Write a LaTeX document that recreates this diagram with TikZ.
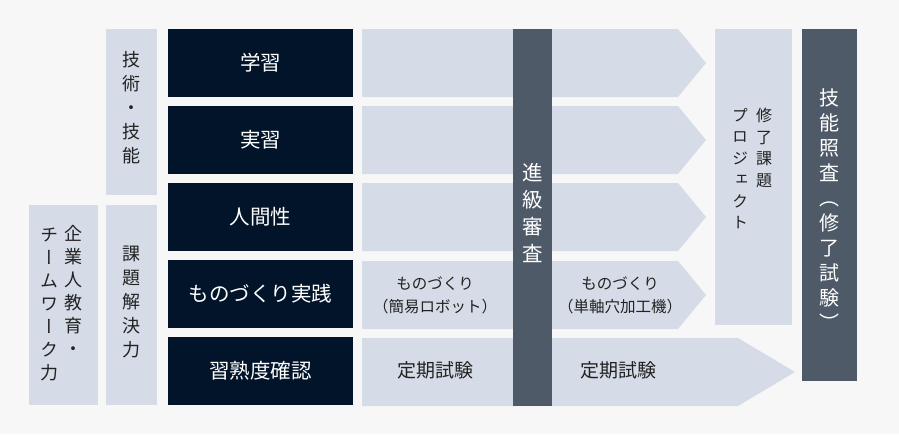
\documentclass[tikz,border=0pt]{standalone}
\usepackage{fontspec}
\newfontfamily\jpfont{Noto Sans CJK JP}
\newfontfamily\jpvert[RawFeature=+vert]{Noto Sans CJK JP}
\definecolor{bggray}{HTML}{F7F7F7}
\definecolor{paleblue}{HTML}{D5DCE7}
\definecolor{navy}{HTML}{02142A}
\definecolor{slate}{HTML}{4F5A68}
\definecolor{inkgray}{HTML}{222222}

\begin{document}
\begin{tikzpicture}[x=1pt,y=-1pt,
    dark node/.style={rectangle,fill=navy,text=white,minimum width=185pt,minimum height=68pt,
                      inner sep=0pt,font=\jpfont\fontsize{20.5}{24}\selectfont},
    pale box/.style={rectangle,fill=paleblue,inner sep=0pt},
    bar box/.style={rectangle,fill=slate,inner sep=0pt},
    col text/.style={align=center,inner sep=0pt,text=inkgray,font=\jpvert\fontsize{18}{24}\selectfont},
    flow text/.style={align=center,inner sep=0pt,text=inkgray},
    flow arrow/.style={fill=paleblue}]

  \useasboundingbox[fill=bggray] (0,0) rectangle (899,434);

  % left side columns
  \node[pale box,minimum width=51pt,minimum height=166pt] (skillbox) at (131.5,112) {};
  \node[col text] (skill) at (131.5,107.5) {技\\術\\・\\技\\能};
  \node[pale box,minimum width=69pt,minimum height=200pt] (teambox) at (63.5,305) {};
  \node[col text,font=\jpvert\fontsize{18}{23}\selectfont,anchor=north] (corp) at (73,225) {企\\業\\人\\教\\育\\・};
  \node[col text,font=\jpvert\fontsize{18}{23}\selectfont,anchor=north] (team) at (49,228) {チ\\ー\\ム\\ワ\\ー\\ク\\力};
  \node[pale box,minimum width=51pt,minimum height=200pt] (solvebox) at (131.5,305) {};
  \node[col text] (solve) at (131.5,302) {課\\題\\解\\決\\力};

  % dark row heads
  \node[dark node] (study) at (260.5,63) {学習};
  \node[dark node] (practice) at (260.5,140) {実習};
  \node[dark node] (human) at (260.5,217) {人間性};
  \node[dark node] (making) at (260.5,294) {ものづくり実践};
  \node[dark node] (check) at (260.5,371) {習熟度確認};

  % arrows
  \fill[flow arrow] (362,29) -- (678,29) -- (706,63) -- (678,97) -- (362,97) -- cycle;
  \fill[flow arrow] (362,106) -- (678,106) -- (706,140) -- (678,174) -- (362,174) -- cycle;
  \fill[flow arrow] (362,183) -- (678,183) -- (706,217) -- (678,251) -- (362,251) -- cycle;
  \fill[flow arrow] (362,261) -- (678,261) -- (706,295) -- (678,329) -- (362,329) -- cycle;
  \fill[flow arrow] (362,338) -- (738,338) -- (795,372) -- (738,406) -- (362,406) -- cycle;

  \node[flow text,font=\jpfont\fontsize{15.5}{23}\selectfont] (robot) at (435,295) {ものづくり\\（簡易ロボット）};
  \node[flow text,font=\jpfont\fontsize{15.5}{23}\selectfont] (drill) at (620,295) {ものづくり\\（単軸穴加工機）};
  \node[flow text,font=\jpfont\fontsize{19}{20}\selectfont] (exam1) at (435,370) {定期試験};
  \node[flow text,font=\jpfont\fontsize{19}{20}\selectfont] (exam2) at (618,370) {定期試験};

  % promotion review bar
  \node[bar box,minimum width=39pt,minimum height=377pt] (promo) at (532.5,217.5) {};
  \node[col text,text=white,font=\jpvert\fontsize{20.5}{27}\selectfont] (promotext) at (532.5,213) {進\\級\\審\\査};

  % final project
  \node[pale box,minimum width=77pt,minimum height=296pt] (projbox) at (753.5,177) {};
  \node[col text,font=\jpvert\fontsize{16}{21.5}\selectfont,anchor=north] (proj1) at (764,108) {修\\了\\課\\題};
  \node[col text,font=\jpvert\fontsize{16}{21.5}\selectfont,anchor=north] (proj2) at (740,108) {プ\\ロ\\ジ\\ェ\\ク\\ト};

  % skill exam bar
  \node[bar box,minimum width=55pt,minimum height=352pt] (exambox) at (829.5,205) {};
  \node[col text,text=white,font=\jpvert\fontsize{20}{25}\selectfont] (examtext) at (829.5,210) {技\\能\\照\\査\\︵\\修\\了\\試\\験\\︶};
\end{tikzpicture}
\end{document}
